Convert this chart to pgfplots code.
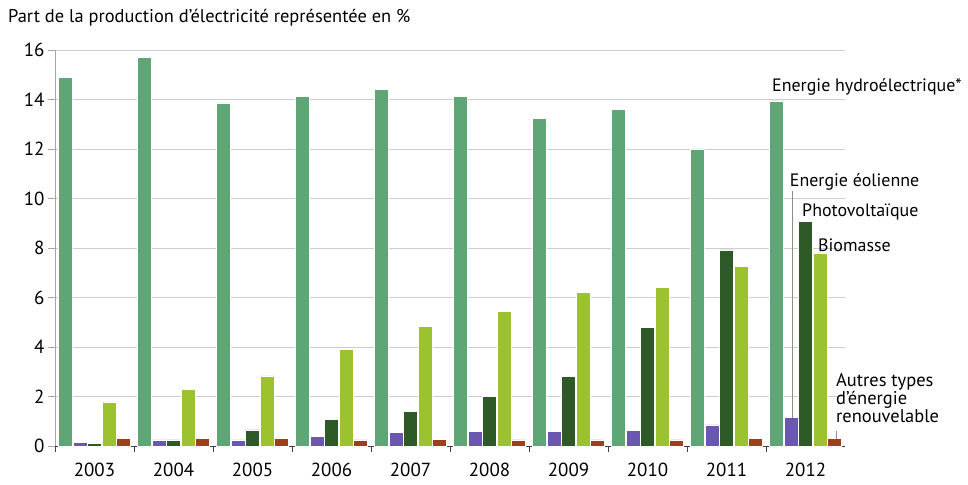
\documentclass[border=0pt]{standalone}
\usepackage{fontspec}
\setmainfont{PT Sans}
\usepackage{pgfplots}
\pgfplotsset{compat=1.18}

\definecolor{hydro}{RGB}{94,166,118}
\definecolor{eol}{RGB}{106,88,176}
\definecolor{pv}{RGB}{45,90,39}
\definecolor{bio}{RGB}{156,195,47}
\definecolor{autre}{RGB}{159,62,28}
\definecolor{gridc}{RGB}{205,205,205}

\begin{document}
\begin{tikzpicture}
\begin{axis}[
  scale only axis,
  width=790bp, height=396bp,
  xmin=-0.5, xmax=9.5,
  ymin=0, ymax=16,
  ytick={0,2,...,16},
  xtick={0,...,9},
  xticklabels={2003,2004,2005,2006,2007,2008,2009,2010,2011,2012},
  minor xtick={-0.5,0.5,...,8.5},
  major x tick style={draw=none},
  minor tick length=6bp,
  major tick length=7bp,
  tick align=outside,
  xtick pos=bottom, ytick pos=left,
  axis x line*=bottom, axis y line*=left,
  x axis line style={draw=black!75, line width=0.8bp, -},
  y axis line style={draw=black!35, line width=0.8bp, -},
  minor x tick style={draw=black!75, line width=0.8bp},
  major y tick style={draw=black!35, line width=0.8bp},
  ymajorgrids,
  major grid style={draw=gridc, line width=0.8bp},
  tick label style={font=\fontsize{19}{21}\selectfont},
  /pgf/number format/assume math mode=true,
  xticklabel style={yshift=-6bp},
  ybar, bar width=0.175,
  clip=false,
]
\addplot[fill=hydro, draw=white, line width=0.6bp, bar shift=-0.367] coordinates
  {(0,14.9) (1,15.7) (2,13.86) (3,14.14) (4,14.4) (5,14.14) (6,13.25) (7,13.6) (8,12.0) (9,13.94)};
\addplot[fill=eol, draw=white, line width=0.6bp, bar shift=-0.184] coordinates
  {(0,0.15) (1,0.25) (2,0.25) (3,0.38) (4,0.54) (5,0.58) (6,0.58) (7,0.64) (8,0.85) (9,1.15)};
\addplot[fill=pv, draw=white, line width=0.6bp, bar shift=0] coordinates
  {(0,0.1) (1,0.25) (2,0.65) (3,1.09) (4,1.41) (5,1.99) (6,2.8) (7,4.8) (8,7.92) (9,9.09)};
\addplot[fill=bio, draw=white, line width=0.6bp, bar shift=0.184] coordinates
  {(0,1.78) (1,2.3) (2,2.83) (3,3.9) (4,4.82) (5,5.43) (6,6.22) (7,6.42) (8,7.27) (9,7.8)};
\addplot[fill=autre, draw=white, line width=0.6bp, bar shift=0.367] coordinates
  {(0,0.3) (1,0.3) (2,0.3) (3,0.25) (4,0.28) (5,0.25) (6,0.25) (7,0.25) (8,0.3) (9,0.3)};

\coordinate (sw) at (rel axis cs:0,0);
\coordinate (ne) at (rel axis cs:1,1);

\draw[black!45, line width=0.8bp] (axis cs:8.84,10.3) -- (axis cs:8.84,1.15);
\draw[black!45, line width=0.8bp] (axis cs:9.39,0.62) -- (axis cs:9.39,0.3);

\begin{scope}[every node/.style={font=\fontsize{18}{18}\selectfont, inner sep=0pt, anchor=west}]
\node at (axis cs:8.576,14.5) {Energie hydroélectrique*};
\node at (axis cs:8.80,10.67) {Energie éolienne};
\node at (axis cs:8.956,9.45) {Photovoltaïque};
\node at (axis cs:9.158,8.12) {Biomasse};
\node[align=left, font=\fontsize{18.5}{15.5}\selectfont] at (axis cs:9.386,1.94) {Autres types\\d’énergie\\renouvelable};
\end{scope}
\end{axis}
\node[anchor=west, inner sep=0pt, font=\fontsize{18.5}{20}\selectfont] at ([shift={(-47bp,428bp)}]sw) {Part de la production d’électricité représentée en \%};
\pgfresetboundingbox
\path[use as bounding box] ([shift={(-55bp,-38bp)}]sw) rectangle ([shift={(123bp,50bp)}]ne);
\end{tikzpicture}
\end{document}
